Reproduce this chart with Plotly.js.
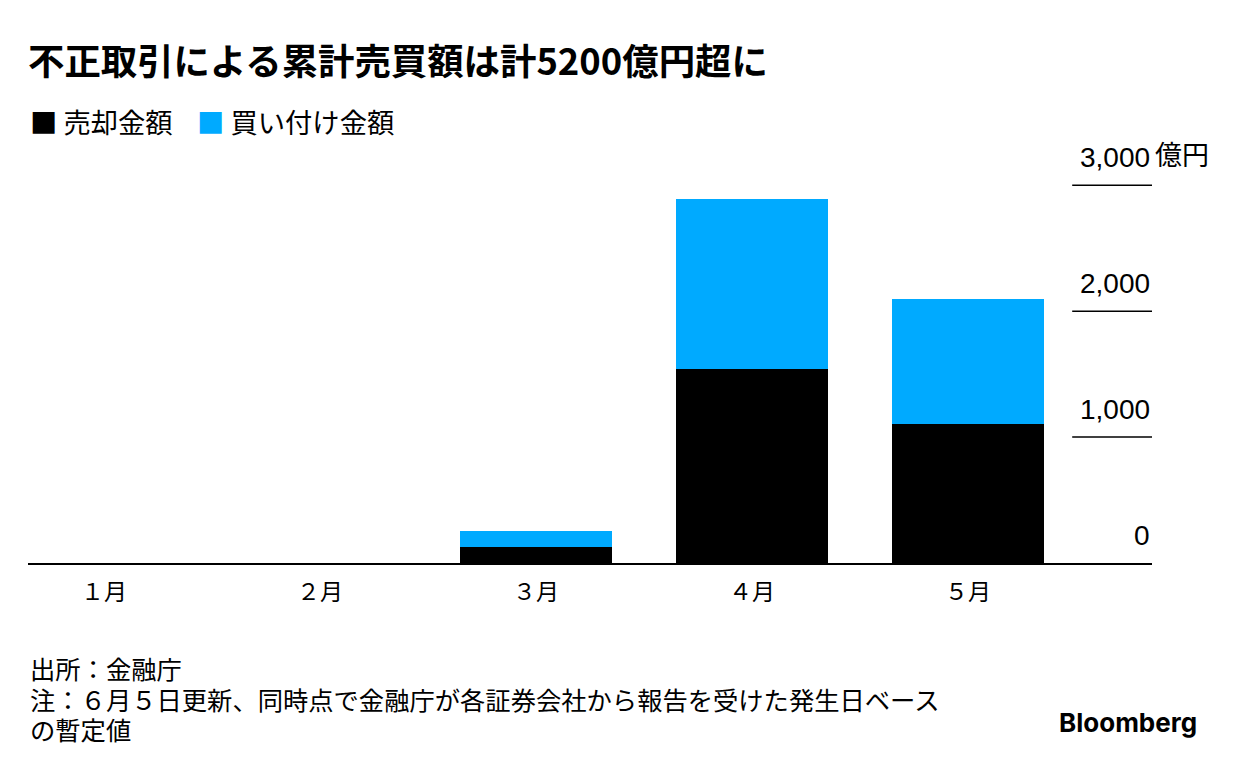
<!DOCTYPE html>
<html>
<head>
<meta charset="utf-8">
<script src="https://cdn.plot.ly/plotly-3.0.1.min.js"></script>
<style>
  html, body { margin: 0; padding: 0; background: #fff; }
  #chart { width: 1236px; height: 768px; }
</style>
</head>
<body>
<div id="chart"></div>
<script>
// ---- data ----
const months = ['１月', '２月', '３月', '４月', '５月'];
const seriesNames = ['売却金額', '買い付け金額'];
const sellValues = [0, 0, 127, 1541, 1102];   // 売却金額 (億円)
const buyValues = [0, 0, 127, 1348, 995];     // 買い付け金額 (億円)
const yTickVals = [0, 1000, 2000, 3000];
const yTickText = ['0', '1,000', '2,000', '3,000'];
const yUnit = '億円';
const titleText = '不正取引による累計売買額は計5200億円超に';
const sourceLines = ['出所：金融庁', '注：６月５日更新、同時点で金融庁が各証券会社から報告を受けた発生日ベース', 'の暫定値'];
const brand = 'Bloomberg';

const colors = ['#000000', '#00AAFF'];
const FONT = '"Noto Sans CJK JP", "Noto Sans", sans-serif';
const NUMFONT = '"Liberation Sans", Arial, sans-serif';

const traces = [
  { type: 'bar', x: months, y: sellValues, name: seriesNames[0], marker: { color: colors[0], line: { width: 0 } }, hoverinfo: 'skip' },
  { type: 'bar', x: months, y: buyValues, name: seriesNames[1], marker: { color: colors[1], line: { width: 0 } }, hoverinfo: 'skip' }
];

const shapes = yTickVals.filter(v => v !== 0).map(v => ({
  type: 'line', xref: 'paper', yref: 'y',
  x0: 0.929, x1: 1.0, y0: v, y1: v,
  line: { color: '#000', width: 1.5 }
}));

const annotations = [];
yTickVals.forEach((v, i) => {
  annotations.push({
    xref: 'paper', yref: 'y', x: 1.0, y: v, xanchor: 'right', yanchor: 'bottom',
    yshift: 10, text: yTickText[i], showarrow: false,
    font: { family: NUMFONT, size: 28, color: '#000' }
  });
});
annotations.push({
  xref: 'paper', yref: 'y', x: 1.0, y: yTickVals[yTickVals.length - 1], xanchor: 'left', yanchor: 'bottom',
  xshift: 1, yshift: 10, text: yUnit, showarrow: false,
  font: { family: FONT, size: 27, color: '#000' }
});
// legend
annotations.push({
  xref: 'paper', yref: 'paper', x: 0.0, y: 1, yshift: 29, xanchor: 'left', yanchor: 'middle',
  showarrow: false,
  text: '<span style="color:' + colors[0] + '">■</span> ' + seriesNames[0] + '&nbsp;&nbsp;&nbsp;&nbsp;<span style="color:' + colors[1] + '">■</span> ' + seriesNames[1],
  font: { family: FONT, size: 27.3, color: '#000' }
});
// footnotes, one per line
const footCenters = [668, 699, 729];
sourceLines.forEach((line, i) => {
  annotations.push({
    xref: 'paper', yref: 'paper', x: 0, xshift: 0, y: 0, yshift: 563 - footCenters[i],
    xanchor: 'left', yanchor: 'middle', align: 'left',
    showarrow: false, text: line,
    font: { family: FONT, size: 25.3, color: '#000' }
  });
});
// brand
annotations.push({
  xref: 'paper', yref: 'paper', x: 1, xshift: 47, y: 0, yshift: -159, xanchor: 'right', yanchor: 'middle',
  showarrow: false, text: '<b>' + brand + '</b>',
  font: { family: 'Inter, "Liberation Sans", sans-serif', size: 26, color: '#000' }
});

const layout = {
  width: 1236, height: 768,
  margin: { l: 28, r: 84, t: 150, b: 205, pad: 0 },
  paper_bgcolor: '#fff', plot_bgcolor: '#fff',
  barmode: 'stack', bargap: 0.3,
  showlegend: false,
  title: {
    text: '<b>' + titleText + '</b>',
    xref: 'container', yref: 'container',
    x: 28 / 1236, xanchor: 'left', y: 1 - 62 / 768, yanchor: 'middle',
    font: { family: FONT, size: 36.4, color: '#000' }
  },
  xaxis: {
    type: 'category', categoryorder: 'array', categoryarray: months,
    range: [-0.352, 4.852], fixedrange: true,
    showgrid: false, zeroline: false,
    showline: true, linecolor: '#000', linewidth: 1.5,
    ticks: 'outside', ticklen: 8, tickcolor: 'rgba(0,0,0,0)',
    tickfont: { family: FONT, size: 23, color: '#000' }
  },
  yaxis: {
    range: [0, 3281], fixedrange: true,
    showgrid: false, zeroline: false, showline: false, showticklabels: false, ticks: ''
  },
  shapes: shapes,
  annotations: annotations
};

Plotly.newPlot('chart', traces, layout, { staticPlot: true, displayModeBar: false });
</script>
</body>
</html>
